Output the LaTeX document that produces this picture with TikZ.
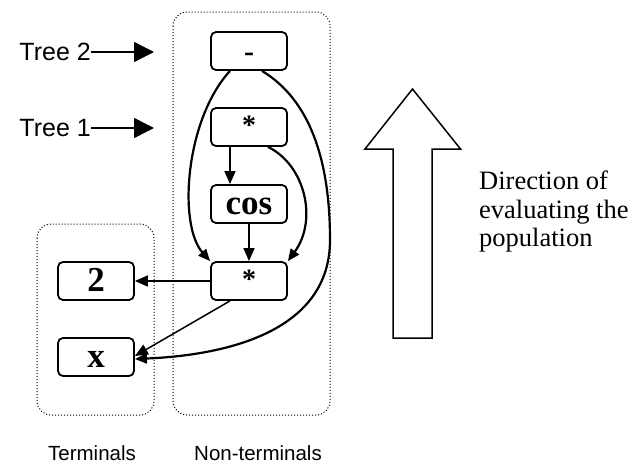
\documentclass[tikz,border=0pt]{standalone}
\usepackage{fontspec}
\setmainfont{Liberation Serif}
\newfontfamily\arialf{Liberation Sans}
\usetikzlibrary{arrows.meta}
\tikzset{
  gpbox/.style={draw, line width=1.8pt, rounded corners=5pt, inner sep=0pt,
    minimum width=76pt, minimum height=38pt, text height=29.5pt, text depth=8.5pt,
    font=\fontsize{35}{35}\selectfont\bfseries},
  groupbox/.style={draw, dotted, line width=1pt, rounded corners=14pt},
  arr/.style={line width=1.5pt, -{Triangle[length=13pt,width=11pt]}},
  carr/.style={line width=2.2pt, -{Triangle[length=12pt,width=10pt]}},
  treearr/.style={line width=1.5pt, -{Triangle[length=20pt,width=20pt]}},
  treelbl/.style={font=\arialf\fontsize{25}{25}\selectfont, inner sep=0pt, anchor=east},
  grplbl/.style={font=\arialf\fontsize{20.5}{20.5}\selectfont, inner sep=0pt},
  dirlbl/.style={font=\fontsize{26.5}{28.5}\selectfont, inner sep=0pt, align=left, anchor=north west},
}
\newcommand{\smallstar}{{\fontsize{28}{28}\selectfont\raisebox{3pt}{*}}}
\newcommand{\smalldash}{{\fontsize{30}{30}\selectfont -}}
\begin{document}
\begin{tikzpicture}[x=1pt,y=-1pt]
\useasboundingbox (0,0) rectangle (630,466);
% group boxes
\draw[groupbox] (173,12) rectangle (330,415);
\draw[groupbox] (37,224) rectangle (154,415);
% nodes
\node[gpbox] (m)  at (249,51)  {\smalldash};
\node[gpbox] (s1) at (249,127) {\smallstar};
\node[gpbox] (c)  at (249,204) {cos};
\node[gpbox] (s2) at (249,281) {\smallstar};
\node[gpbox] (t2) at (96,281)  {2};
\node[gpbox] (tx) at (96,357)  {x};
% tree labels
\node[treelbl] (tree2) at (91,52) {Tree 2};
\node[treelbl] (tree1) at (91,128) {Tree 1};
\coordinate (tree2end) at (154,52);
\coordinate (tree1end) at (154,128);
\draw[treearr] (tree2.east) -- (tree2end);
\draw[treearr] (tree1.east) -- (tree1end);
% edges
\draw[arr] ([xshift=-19pt]s1.south) -- ([xshift=-19pt]c.north);
\draw[arr] (c.south) -- (s2.north);
\draw[arr] (s2.west) -- (t2.east);
\draw[arr] ([xshift=-19pt]s2.south) -- ([yshift=1pt]tx.east);
\draw[carr] ([xshift=-19pt]m.south) .. controls (185,120) and (178,225) .. (s2.north west);
\draw[carr] ([xshift=19pt]s1.south) .. controls (305,165) and (318,220) .. (s2.north east);
\draw[carr] ([xshift=13pt]m.south) .. controls (310,100) and (330,160) .. (330,240)
   .. controls (330,330) and (230,355) .. ([yshift=-2pt]tx.east);
% big arrow
\draw[line width=1.5pt, line join=miter] (393,338) -- (393,149) -- (365,149) -- (412.5,89)
   -- (460.5,149) -- (432,149) -- (432,338) -- cycle;
\node[dirlbl] (dir) at (479,171) {Direction of\\evaluating the\\population};
% group labels
\node[grplbl] (term) at (92,453) {Terminals};
\node[grplbl] (nterm) at (258,453) {Non-terminals};
\end{tikzpicture}
\end{document}
